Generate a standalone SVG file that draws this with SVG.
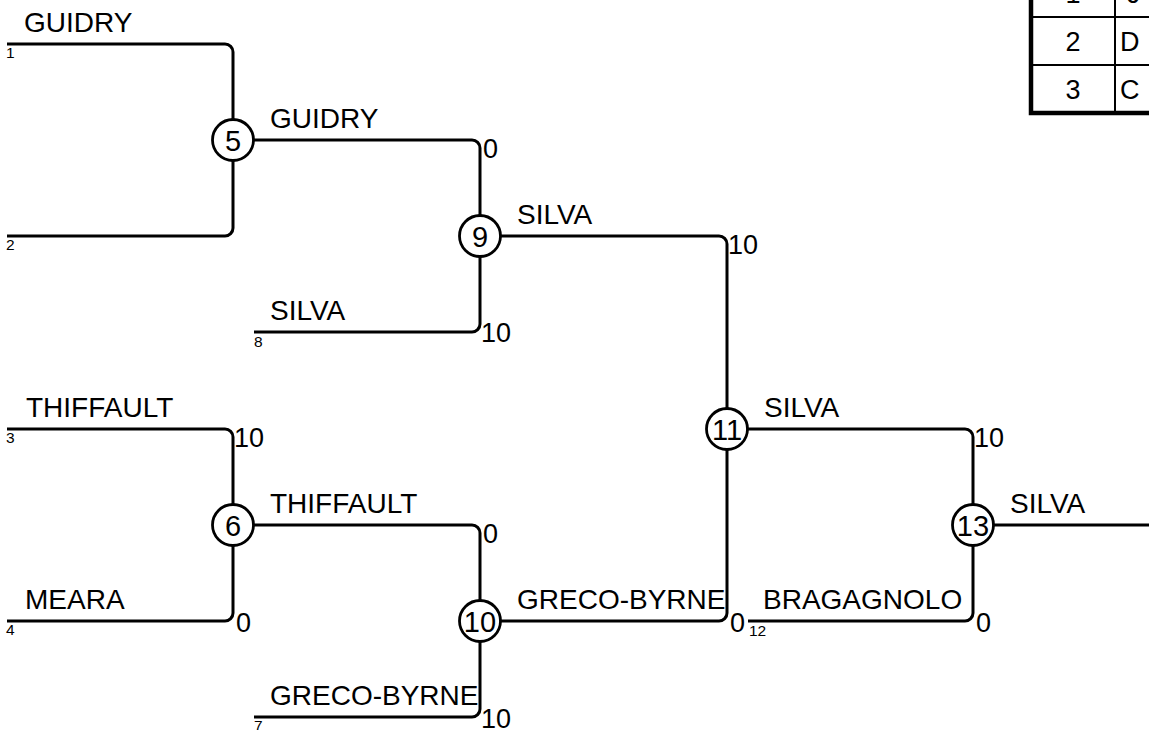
<svg xmlns="http://www.w3.org/2000/svg" width="1149" height="730" viewBox="0 0 1149 730">
<style>
.c{fill:none;stroke:#000;stroke-width:3;stroke-linejoin:round}
.n{fill:#fff;stroke:#000;stroke-width:2.8}
.nt{font-family:"Liberation Sans",Arial,sans-serif;font-size:29px;text-anchor:middle;fill:#000}
.lb{font-family:"Liberation Sans",Arial,sans-serif;font-size:28px;fill:#000}
.sc{font-family:"Liberation Sans",Arial,sans-serif;font-size:27px;fill:#000}
.sd{font-family:"Liberation Sans",Arial,sans-serif;font-size:15.5px;fill:#000}
.tb{font-family:"Liberation Sans",Arial,sans-serif;font-size:27px;fill:#000}
</style>
<rect width="1149" height="730" fill="#fff"/>
<g id="legend">
<path d="M1031,-40 V113 H1149" fill="none" stroke="#000" stroke-width="4.5"/>
<path d="M1031,17 H1149 M1031,65 H1149 M1115,-40 V113" fill="none" stroke="#000" stroke-width="2"/>
<text class="tb" x="1073" y="3" text-anchor="middle">1</text>
<text class="tb" x="1073" y="51" text-anchor="middle">2</text>
<text class="tb" x="1073" y="99" text-anchor="middle">3</text>
<text class="tb" x="1127" y="3">J</text>
<text class="tb" x="1120" y="51">D</text>
<text class="tb" x="1120" y="99">C</text>
</g>
<g id="connectors">
<path class="c" d="M7,44 H225 A8,8 0 0 1 233,52 V140"/>
<path class="c" d="M7,236 H225 A8,8 0 0 0 233,228 V140"/>
<path class="c" d="M233,140 H472 A8,8 0 0 1 480,148 V236"/>
<path class="c" d="M254,332 H472 A8,8 0 0 0 480,324 V236"/>
<path class="c" d="M7,429 H225 A8,8 0 0 1 233,437 V525"/>
<path class="c" d="M7,621 H225 A8,8 0 0 0 233,613 V525"/>
<path class="c" d="M233,525 H472 A8,8 0 0 1 480,533 V621"/>
<path class="c" d="M254,717 H472 A8,8 0 0 0 480,709 V621"/>
<path class="c" d="M480,236 H719 A8,8 0 0 1 727,244 V429"/>
<path class="c" d="M480,621 H719 A8,8 0 0 0 727,613 V429"/>
<path class="c" d="M727,429 H965 A8,8 0 0 1 973,437 V525"/>
<path class="c" d="M748,621 H965 A8,8 0 0 0 973,613 V525"/>
<path class="c" d="M973,525 H1149"/>
</g>
<g id="labels">
<text class="lb" x="24" y="32">GUIDRY</text>
<text class="lb" x="270" y="128">GUIDRY</text>
<text class="lb" x="517" y="224">SILVA</text>
<text class="lb" x="270" y="320">SILVA</text>
<text class="lb" x="26" y="417">THIFFAULT</text>
<text class="lb" x="25" y="609">MEARA</text>
<text class="lb" x="270" y="513">THIFFAULT</text>
<text class="lb" x="270" y="705">GRECO-BYRNE</text>
<text class="lb" x="517" y="609">GRECO-BYRNE</text>
<text class="lb" x="764" y="417">SILVA</text>
<text class="lb" x="763" y="609">BRAGAGNOLO</text>
<text class="lb" x="1010" y="513">SILVA</text>
</g>
<g id="scores">
<text class="sc" x="483" y="158">0</text>
<text class="sc" x="481" y="342">10</text>
<text class="sc" x="728" y="254">10</text>
<text class="sc" x="234" y="447">10</text>
<text class="sc" x="236" y="632">0</text>
<text class="sc" x="483" y="543">0</text>
<text class="sc" x="481" y="728">10</text>
<text class="sc" x="730" y="632">0</text>
<text class="sc" x="974" y="447">10</text>
<text class="sc" x="976" y="632">0</text>
</g>
<g id="seeds">
<text class="sd" x="6" y="58">1</text>
<text class="sd" x="6" y="250">2</text>
<text class="sd" x="6" y="443">3</text>
<text class="sd" x="6" y="635">4</text>
<text class="sd" x="254" y="347">8</text>
<text class="sd" x="254" y="731">7</text>
<text class="sd" x="749" y="636">12</text>
</g>
<g id="node5"><circle class="n" cx="233" cy="140" r="20.5"/><text class="nt" x="233" y="151">5</text></g>
<g id="node9"><circle class="n" cx="480" cy="236" r="20.5"/><text class="nt" x="480" y="247">9</text></g>
<g id="node6"><circle class="n" cx="233" cy="525" r="20.5"/><text class="nt" x="233" y="536">6</text></g>
<g id="node10"><circle class="n" cx="480" cy="621" r="20.5"/><text class="nt" x="480" y="632">10</text></g>
<g id="node11"><circle class="n" cx="727" cy="429" r="20.5"/><text class="nt" x="727" y="440">11</text></g>
<g id="node13"><circle class="n" cx="973" cy="525" r="20.5"/><text class="nt" x="973" y="536">13</text></g>
</svg>
